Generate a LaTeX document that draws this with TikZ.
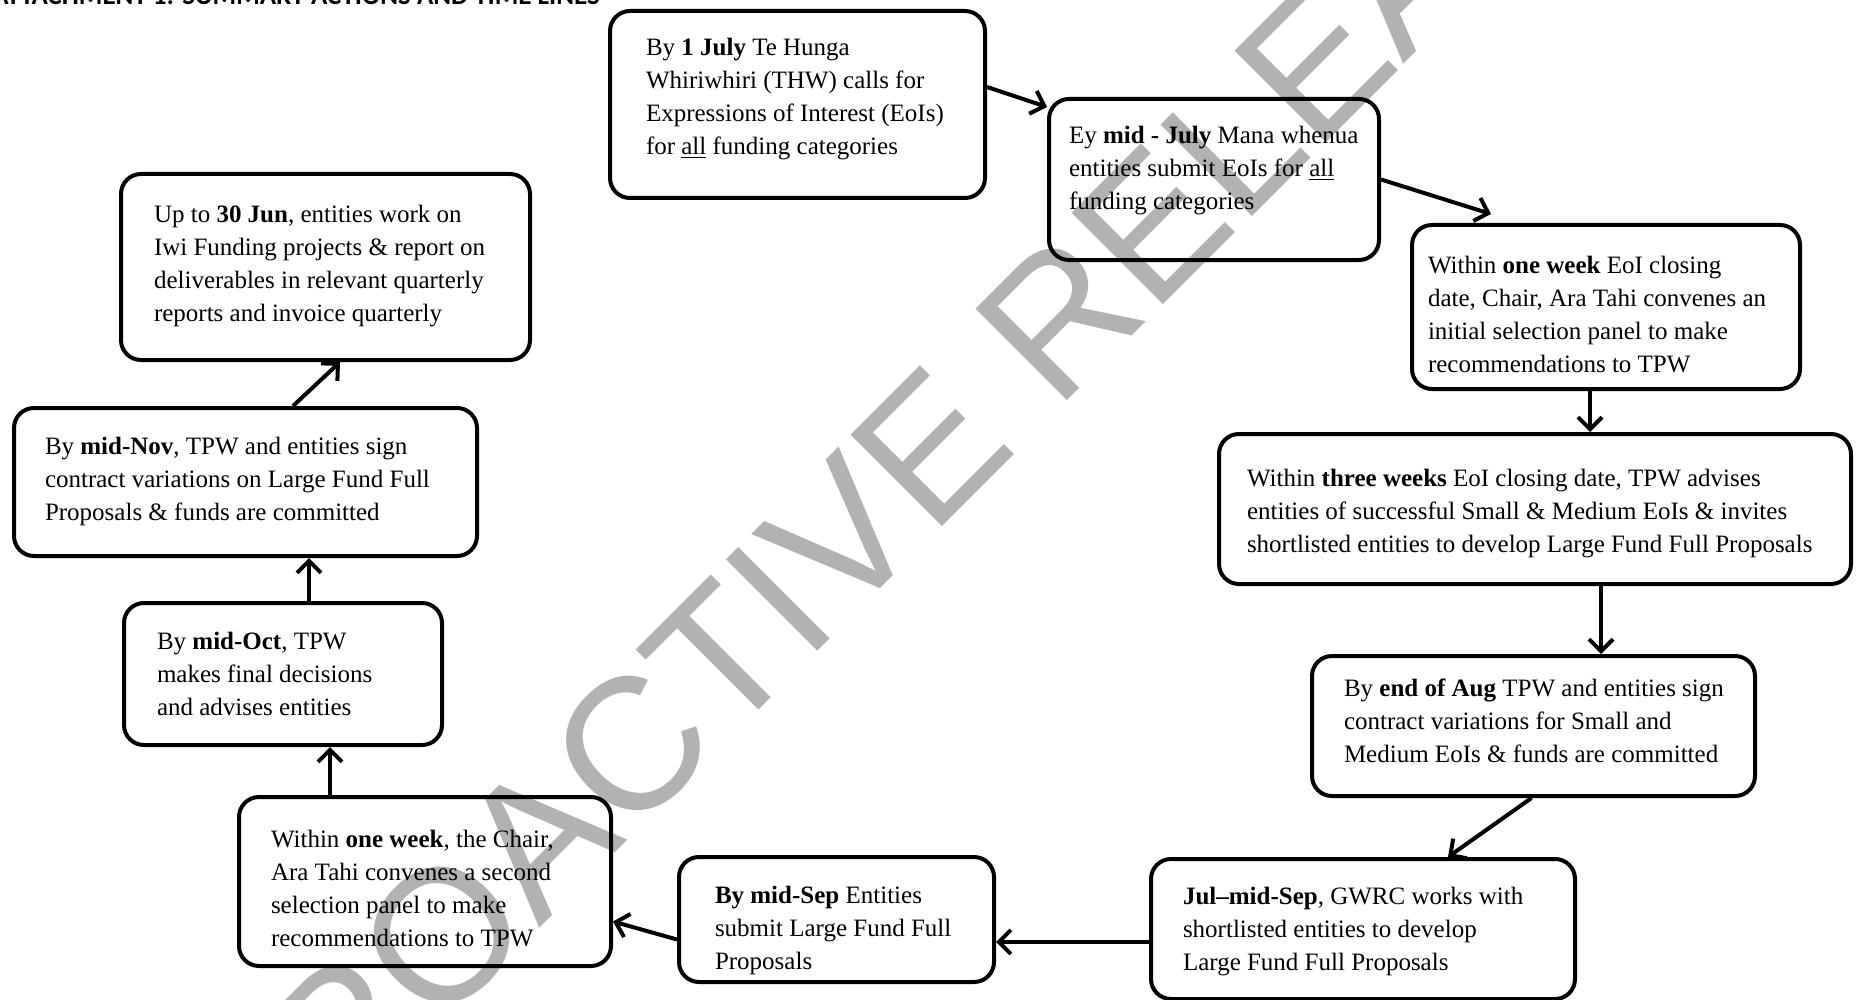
\documentclass[tikz,border=0pt]{standalone}
\usepackage{fontspec}
\setmainfont{Liberation Serif}
\newfontfamily\titlefont{Carlito}
\newfontfamily\markfont{Liberation Sans}
\usepackage{xcolor}
\usetikzlibrary{arrows.meta,positioning,calc}

% box text: width, height, top pad, left pad, lines
\newcommand{\stagetext}[5]{\parbox[c][#2][t]{#1}{\vspace*{#3}\hspace*{#4}\begin{tabular}[t]{@{}l@{}}#5\end{tabular}}}

\begin{document}
\begin{tikzpicture}[
  x=0.5pt, y=-0.5pt,
  stage/.style={
    rectangle, rounded corners=10pt, draw=black, line width=2pt,
    anchor=north west, inner sep=0pt,
    font=\fontsize{12.5}{16.5}\selectfont
  },
  flow/.style={-{Straight Barb[length=6pt,width=12pt]}, line width=2pt},
  stamp/.style={
    rotate=45, inner sep=0pt, text=black!30,
    font=\markfont\fontsize{94}{94}\selectfont
  }
]
\useasboundingbox (0,0) rectangle (1861,1000);

% watermark behind everything
\node[stamp] (release) at (915,462) {PROACTIVE RELEASE};

% heading, cut by the top edge
\node[anchor=base west, inner sep=0pt, font=\titlefont\bfseries\fontsize{13.5}{15}\selectfont]
  (heading) at (-8,5) {ATTACHMENT 1: SUMMARY ACTIONS AND TIME LINES};

% top and right side of the cycle
\node[stage] (calleoi) at (608,9)
  {\stagetext{187.5pt}{93.5pt}{10.5pt}{18pt}{%
   By \textbf{1 July} Te Hunga\\
   Whiriwhiri (THW) calls for\\
   Expressions of Interest (EoIs)\\
   for \underline{all} funding categories}};
\node[stage] (submiteoi) at (1047,97)
  {\stagetext{165pt}{80.5pt}{10.5pt}{10pt}{%
   Ey \textbf{mid - July} Mana whenua\\
   entities submit EoIs for \underline{all}\\
   funding categories}};
\node[stage] (panelone) at (1410,223)
  {\stagetext{194pt}{82pt}{12.9pt}{8pt}{%
   Within \textbf{one week} EoI closing\\
   date, Chair, Ara Tahi convenes an\\
   initial selection panel to make\\
   recommendations to TPW}};
\node[stage] (advisetpw) at (1217,432)
  {\stagetext{316pt}{75pt}{14.7pt}{14pt}{%
   Within \textbf{three weeks} EoI closing date, TPW advises\\
   entities of successful Small \& Medium EoIs \& invites\\
   shortlisted entities to develop Large Fund Full Proposals}};
\node[stage] (signsm) at (1310,654)
  {\stagetext{221.5pt}{70pt}{8.8pt}{16pt}{%
   By \textbf{end of Aug} TPW and entities sign\\
   contract variations for Small and\\
   Medium EoIs \& funds are committed}};

% bottom row
\node[stage] (developlf) at (1149,857)
  {\stagetext{212pt}{70pt}{11.2pt}{16pt}{%
   \textbf{Jul--mid-Sep}, GWRC works with\\
   shortlisted entities to develop\\
   Large Fund Full Proposals}};
\node[stage] (submitlf) at (677,855)
  {\stagetext{157.5pt}{62.5pt}{11.7pt}{18pt}{%
   \textbf{By mid-Sep} Entities\\
   submit Large Fund Full\\
   Proposals}};
\node[stage] (paneltwo) at (237,795)
  {\stagetext{186pt}{84.5pt}{13.6pt}{16pt}{%
   Within \textbf{one week}, the Chair,\\
   Ara Tahi convenes a second\\
   selection panel to make\\
   recommendations to TPW}};

% left side
\node[stage] (decidetpw) at (122,601)
  {\stagetext{159pt}{71pt}{11.7pt}{16.5pt}{%
   By \textbf{mid-Oct}, TPW\\
   makes final decisions\\
   and advises entities}};
\node[stage] (signlf) at (12,406)
  {\stagetext{231.5pt}{74pt}{11.7pt}{15.5pt}{%
   By \textbf{mid-Nov}, TPW and entities sign\\
   contract variations on Large Fund Full\\
   Proposals \& funds are committed}};
\node[stage] (workiwi) at (119,172)
  {\stagetext{204.5pt}{93pt}{12.9pt}{16.5pt}{%
   Up to \textbf{30 Jun}, entities work on\\
   Iwi Funding projects \& report on\\
   deliverables in relevant quarterly\\
   reports and invoice quarterly}};

% cycle arrows
\draw[flow] ([yshift=8.75pt]calleoi.east) -- ([yshift=-5pt]submiteoi.north west);
\draw[flow] (submiteoi.east) -- ([xshift=40.5pt,yshift=4.5pt]panelone.north west);
\draw[flow] ([xshift=-8pt]panelone.south) -- ([xshift=-8pt]panelone.south |- advisetpw.north);
\draw[flow] ([xshift=33pt]advisetpw.south) -- ([xshift=33pt]advisetpw.south |- signsm.north);
\draw[flow] ([xshift=-1pt]signsm.south) -- ([xshift=42.5pt]developlf.north);
\draw[flow] ([yshift=-6.5pt]developlf.west) -- ([yshift=-6.5pt]developlf.west -| submitlf.east);
\draw[flow] ([yshift=-10pt]submitlf.west) -- ([yshift=-20pt]paneltwo.east);
\draw[flow] ([xshift=-47.5pt]paneltwo.north) -- ([xshift=-47.5pt]paneltwo.north |- decidetpw.south);
\draw[flow] ([xshift=13pt]decidetpw.north) -- ([xshift=13pt]decidetpw.north |- signlf.south);
\draw[flow] ([xshift=23.75pt]signlf.north) -- ([xshift=7.25pt]workiwi.south);

\end{tikzpicture}
\end{document}
